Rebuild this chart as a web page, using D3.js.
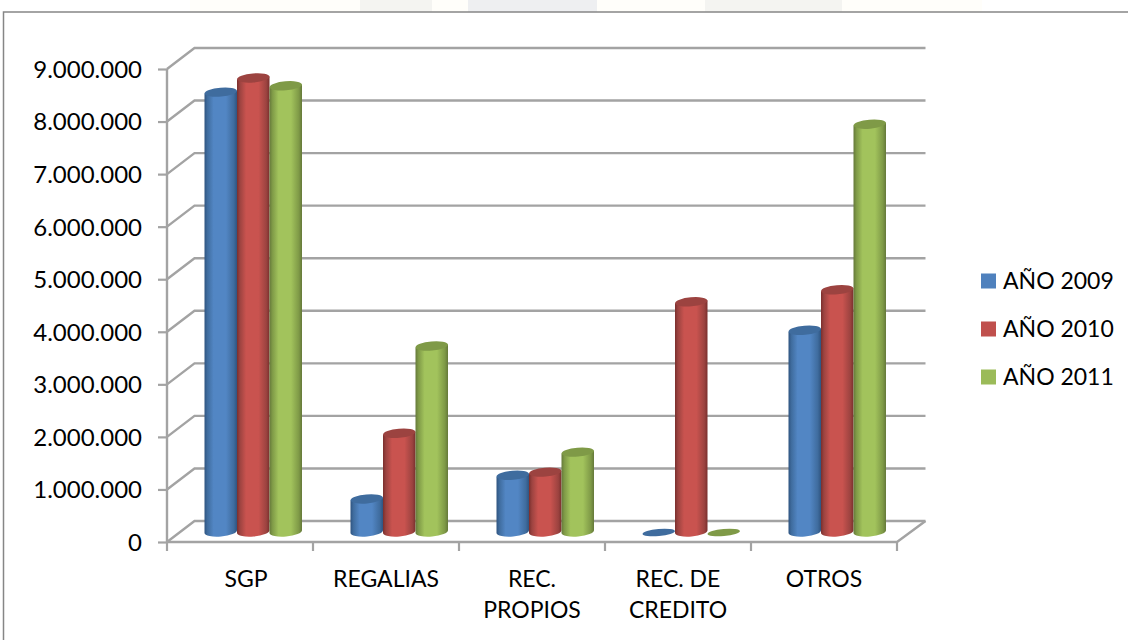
<!DOCTYPE html>
<html><head><meta charset="utf-8">
<script src="https://cdn.jsdelivr.net/npm/d3@7"></script>
<style>html,body{margin:0;padding:0;background:#fff}svg{display:block}text{font-family:Lato,Carlito,sans-serif;fill:#000}</style>
</head><body><svg id="c" width="1128" height="640"></svg>
<script>
const categories=[["SGP"],["REGALIAS"],["REC.","PROPIOS"],["REC. DE","CREDITO"],["OTROS"]];
const seriesNames=["AÑO 2009","AÑO 2010","AÑO 2011"];
const values2009=[8360000,620000,1070000,0,3830000];
const values2010=[8630000,1870000,1130000,4370000,4600000];
const values2011=[8480000,3530000,1510000,0,7750000];
const colors=[["#5286c4","#2f5480","#3f6c9e"],["#c9534f","#7a2f2d","#9c4340"],["#a2c35c","#65793a","#7f9a47"]];
const legendColors=["#4f81bd","#c0504d","#9bbb59"];
const tickVals=d3.range(0,9000001,1000000);
const fmt=v=>d3.format(",")(v).replace(/,/g,".");

const svg=d3.select("#c");
const W=1128,H=640;
const dx=27.5,dy=-21;
const x=d3.scaleBand().domain(d3.range(categories.length)).range([167,897]);
const y=d3.scaleLinear().domain([0,9000000]).range([542,69]);
const inner=d3.scaleBand().domain(d3.range(3)).range([0,32.5*3]);

// page background: faint watermark visible above the chart
const bg=svg.append("g");
bg.append("rect").attr("x",190).attr("y",0).attr("width",792).attr("height",12).attr("fill","#fffefa");
[[360,432,"#f4f4f1"],[468,597,"#eeeff1"],[705,842,"#f4f4f1"]].forEach(d=>bg.append("rect").attr("x",d[0]).attr("y",0).attr("width",d[1]-d[0]).attr("height",12).attr("fill",d[2]));
// chart frame
svg.append("path").attr("d",`M3.5,${H}V12H${W}`).attr("fill","none").attr("stroke","#868686").attr("stroke-width",1.5);

// defs: cylinder gradients
const defs=svg.append("defs");
colors.forEach((c,i)=>{
  const g=defs.append("linearGradient").attr("id","cyl"+i);
  [[0,c[1]],[.09,c[2]],[.28,c[0]],[.66,c[0]],[.9,c[2]],[1,c[1]]].forEach(s=>g.append("stop").attr("offset",s[0]).attr("stop-color",s[1]));
});
const blur=defs.append("filter").attr("id","soft").attr("x","-5%").attr("y","-5%").attr("width","110%").attr("height","110%");
blur.append("feGaussianBlur").attr("stdDeviation",.45);

// walls and floor
const grid=svg.append("g").attr("fill","none").attr("stroke","#a3a3a3").attr("stroke-width",2.4).attr("filter","url(#soft)");
const x0=x.range()[0],x1=x.range()[1];
tickVals.forEach(v=>{
  const Y=y(v);
  grid.append("path").attr("d",`M${x0},${Y}L${x0+dx},${Y+dy}H${x1+dx+1}`);
});
grid.append("path").attr("d",`M${x0},${y(0)}H${x1}L${x1+dx+1},${y(0)+dy}`);
grid.append("path").attr("d",`M${x0},${y(9000000)}V${y(0)}`);
// axis ticks
const yAxis=d3.axisLeft(y).tickValues(tickVals).tickFormat(fmt).tickSize(9).tickPadding(16);
const ya=svg.append("g").attr("transform",`translate(${x0},0)`).call(yAxis);
ya.select(".domain").remove();
ya.selectAll("line").attr("stroke","#a3a3a3").attr("stroke-width",2.2);
ya.selectAll("text").attr("font-size",24).attr("fill","#000").attr("dy","0.35em").style("font-family","Lato,sans-serif");
const xTicks=d3.range(categories.length+1).map(i=>x0+i*x.step());
svg.append("g").selectAll("line").data(xTicks).join("line")
  .attr("x1",d=>d).attr("x2",d=>d).attr("y1",y(0)).attr("y2",y(0)+9)
  .attr("stroke","#a3a3a3").attr("stroke-width",2.2);

// cylinders
const rx=32.5/2,ry=4.5,tilt=-5;
const seriesVals=[values2009,values2010,values2011];
const gap=(x.bandwidth()-inner.range()[1])/2;
const bars=svg.append("g");
categories.forEach((cat,ci)=>{
  seriesVals.forEach((vals,si)=>{
    const v=vals[ci];
    const l=x(ci)+gap+inner(si)+dx/2-0.5, r=l+inner.bandwidth(), cx=(l+r)/2;
    const base=y(0)+dy/2, top=y(v)+dy/2;
    const g=bars.append("g");
    if(v>0){
      const t=Math.tan(tilt*Math.PI/180)*rx;
      g.append("path")
       .attr("d",`M${l},${top-t}L${l},${base-t}A${rx},${ry+.5} ${tilt} 0 0 ${r},${base+t}L${r},${top+t}Z`)
       .attr("fill",`url(#cyl${si})`);
    }
    g.append("ellipse").attr("transform",`translate(${cx},${v>0?top:top+1}) rotate(${tilt})`)
      .attr("rx",rx).attr("ry",v>0?ry:3.5).attr("fill",colors[si][2]);
  });
});

// category labels
const cat=svg.append("g").attr("font-size",23).attr("text-anchor","middle");
categories.forEach((lines,i)=>{
  lines.forEach((t,j)=>cat.append("text").attr("x",x(i)+x.bandwidth()/2+(i==0?6:0)).attr("y",587+j*31).text(t));
});

// legend
const leg=svg.append("g");
seriesNames.forEach((n,i)=>{
  const Y=281+i*48;
  leg.append("rect").attr("x",981).attr("y",Y-7.5).attr("width",15).attr("height",15).attr("fill",legendColors[i]);
  leg.append("text").attr("x",1003).attr("y",Y+8).attr("font-size",23).text(n);
});
</script></body></html>
